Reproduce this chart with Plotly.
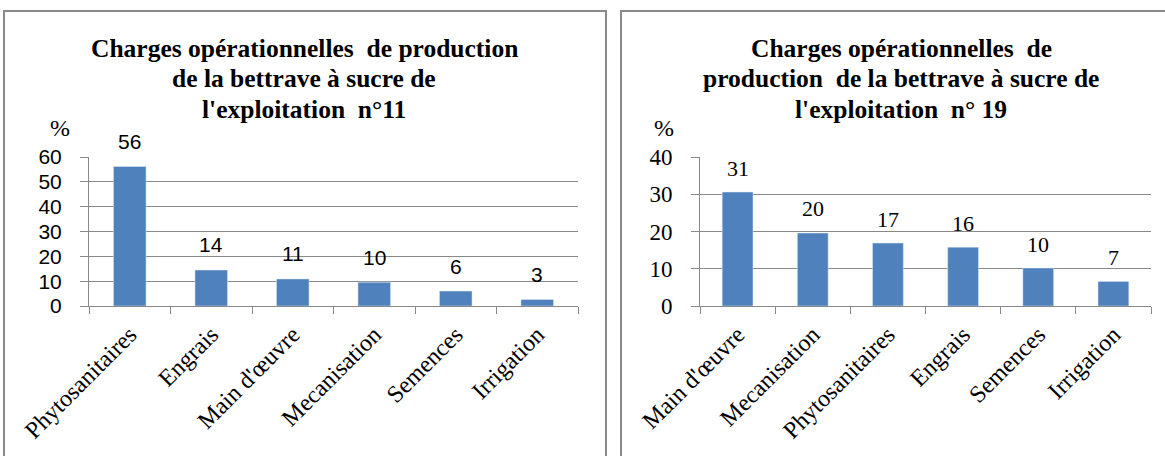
import plotly.graph_objects as go

W, H = 1165, 456

# ---- data ----
cats_11 = ["Phytosanitaires", "Engrais", "Main d'œuvre", "Mecanisation", "Semences", "Irrigation"]
vals_11 = [56.2, 14.5, 10.9, 9.6, 6.0, 2.6]
title_11 = ["Charges opérationnelles  de production", "de la bettrave à sucre de", "l'exploitation  n°11"]
yticks_11 = [0, 10, 20, 30, 40, 50, 60]

cats_19 = ["Main d'œuvre", "Mecanisation", "Phytosanitaires", "Engrais", "Semences", "Irrigation"]
vals_19 = [30.6, 19.6, 16.9, 15.8, 10.2, 6.6]
title_19 = ["Charges opérationnelles  de", "production  de la bettrave à sucre de", "l'exploitation  n° 19"]
yticks_19 = [0, 10, 20, 30, 40]

BAR = "#4f81bd"
GRID = "#888888"
SERIF = "Liberation Serif, Times New Roman, serif"
SANS = "Liberation Sans, Arial, sans-serif"


def px(x):
    return x / W


def py(y):
    return 1 - y / H


fig = go.Figure()
fig.add_trace(go.Bar(x=cats_11, y=vals_11, marker_color=BAR, xaxis="x", yaxis="y",
                     width=0.4, showlegend=False, hoverinfo="skip"))
fig.add_trace(go.Bar(x=cats_19, y=vals_19, marker_color=BAR, xaxis="x2", yaxis="y2",
                     width=0.41, showlegend=False, hoverinfo="skip"))

annotations = []
for c, v in zip(cats_11, vals_11):
    annotations.append(dict(x=c, y=v, xref="x", yref="y", text=f"{round(v)}", showarrow=False,
                            xanchor="center", yanchor="middle",
                            yshift=25, font=dict(family=SANS, size=21, color="black")))
for c, v in zip(cats_19, vals_19):
    annotations.append(dict(x=c, y=v, xref="x2", yref="y2", text=f"{round(v)}", showarrow=False,
                            xanchor="center", yanchor="middle",
                            yshift=24, font=dict(family=SERIF, size=22, color="black")))

for i, line in enumerate(title_11):
    annotations.append(dict(x=px(304), y=py(48 + 30.5 * i), xref="paper", yref="paper", text=f"<b>{line}</b>",
                            showarrow=False, xanchor="center", yanchor="middle",
                            font=dict(family=SERIF, size=25.5, color="black")))
for i, line in enumerate(title_19):
    annotations.append(dict(x=px(901), y=py(48 + 30.5 * i), xref="paper", yref="paper", text=f"<b>{line}</b>",
                            showarrow=False, xanchor="center", yanchor="middle",
                            font=dict(family=SERIF, size=25.5, color="black")))

annotations.append(dict(x=px(60), y=py(128), xref="paper", yref="paper", text="%", showarrow=False,
                        xanchor="center", yanchor="middle",
                        font=dict(family=SERIF, size=24, color="black")))
annotations.append(dict(x=px(664), y=py(128), xref="paper", yref="paper", text="%", showarrow=False,
                        xanchor="center", yanchor="middle",
                        font=dict(family=SERIF, size=24, color="black")))

shapes = []
border = dict(color="#8a8a8a", width=2)
# left panel border
shapes.append(dict(type="line", xref="paper", yref="paper", x0=px(4), x1=px(4), y0=py(11), y1=0, line=border))
shapes.append(dict(type="line", xref="paper", yref="paper", x0=px(3), x1=px(607), y0=py(11), y1=py(11), line=border))
shapes.append(dict(type="line", xref="paper", yref="paper", x0=px(606), x1=px(606), y0=py(11), y1=0, line=border))
# right panel border
shapes.append(dict(type="line", xref="paper", yref="paper", x0=px(621), x1=px(621), y0=py(11), y1=0, line=border))
shapes.append(dict(type="line", xref="paper", yref="paper", x0=px(620), x1=1, y0=py(11), y1=py(11), line=border))

xcommon = dict(type="category", tickson="boundaries", ticks="outside", ticklen=7, tickcolor=GRID,
               tickwidth=1, showline=True, linecolor=GRID, linewidth=1, showgrid=False, tickangle=-45,
               tickfont=dict(family=SERIF, size=24, color="black"), range=[-0.5, 5.5], fixedrange=True,
               automargin=False, ticklabelstandoff=4)
ycommon = dict(ticks="outside", ticklen=8, tickcolor=GRID, tickwidth=1, showline=True, linecolor=GRID,
               showgrid=True, gridcolor=GRID, gridwidth=1, zeroline=False, ticklabelstandoff=14,
               fixedrange=True, automargin=False)

fig.update_layout(
    width=W, height=H,
    margin=dict(l=0, r=0, t=0, b=0, pad=0, autoexpand=False),
    paper_bgcolor="white", plot_bgcolor="white",
    xaxis=dict(xcommon, domain=[px(89), px(578)], anchor="y"),
    yaxis=dict(ycommon, domain=[py(306), py(157)], range=[0, 60], tickvals=yticks_11, anchor="x",
               tickfont=dict(family=SANS, size=21, color="black")),
    xaxis2=dict(xcommon, domain=[px(700), px(1151)], anchor="y2"),
    yaxis2=dict(ycommon, domain=[py(306), py(157)], range=[0, 40], tickvals=yticks_19, anchor="x2",
                tickfont=dict(family=SERIF, size=23, color="black")),
    annotations=annotations,
    shapes=shapes,
    bargap=0.6,
    hovermode=False,
)

fig.write_html("out.html", config={"displayModeBar": False, "staticPlot": True},
               post_script="document.body.style.margin='0';document.body.style.overflow='hidden';")
